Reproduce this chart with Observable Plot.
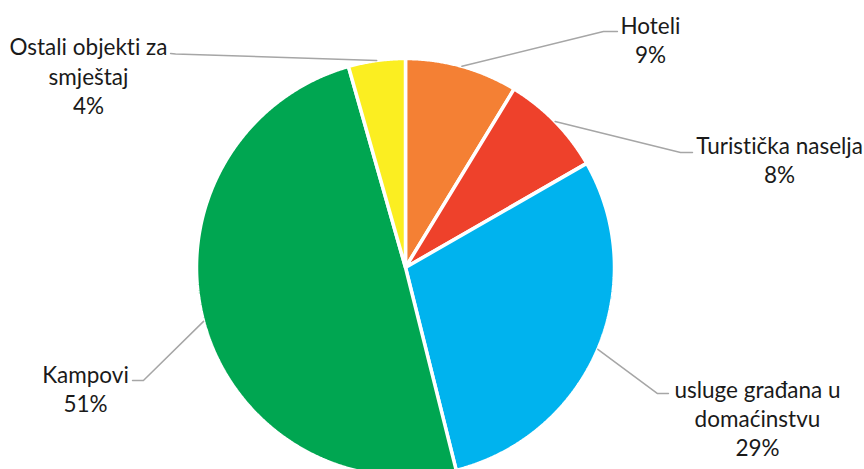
<!DOCTYPE html>
<html>
<head>
<meta charset="utf-8">
<script src="https://cdn.jsdelivr.net/npm/d3@7"></script>
<script src="https://cdn.jsdelivr.net/npm/@observablehq/plot@0.6"></script>
<style>
  html, body { margin: 0; padding: 0; background: white; overflow: hidden; }
  svg text { font-variant-ligatures: none; font-feature-settings: "liga" 0, "dlig" 0; }
</style>
</head>
<body>
<div id="chart"></div>
<script>
// ---- data ----
const categories = ["Hoteli", "Turistička naselja", "usluge građana u domaćinstvu", "Kampovi", "Ostali objekti za smještaj"];
const labelText = ["Hoteli", "Turistička naselja", "usluge građana u\ndomaćinstvu", "Kampovi", "Ostali objekti za\nsmještaj"];
const shares = [8.7, 8.0, 29.4, 49.5, 4.4];          // slice sizes as drawn
const percentLabels = ["9%", "8%", "29%", "51%", "4%"]; // percentages as printed

// ---- style / layout (in pie-radius units) ----
const colors = ["#F48034", "#EE412B", "#00B3EE", "#00A651", "#FBEE21"];
const labelCenter = [[1.172, 1.090], [1.790, 0.516], [1.684, -0.718], [-1.531, -0.578], [-1.517, 0.920]];
const leaderElbow = [[0.947, 1.129], [1.316, 0.550], [1.206, -0.603], [-1.254, -0.541], [-1.100, 1.022]];
const leaderEnd = [[1.014, 1.129], [1.373, 0.550], [1.258, -0.603], [-1.306, -0.541], [-1.124, 1.024]];

// ---- geometry derived from data ----
const arcs = d3.pie().sort(null).value(d => d)(shares);
const slicePts = [];
arcs.forEach((a, i) => {
  const name = categories[i];
  slicePts.push({name, x: 0, y: 0});
  const n = Math.max(2, Math.ceil((a.endAngle - a.startAngle) / 0.005));
  for (let k = 0; k <= n; k++) {
    const t = a.startAngle + (a.endAngle - a.startAngle) * k / n;
    slicePts.push({name, x: Math.sin(t), y: Math.cos(t)});
  }
  slicePts.push({name, x: 0, y: 0});
});

const leaderPts = [];
arcs.forEach((a, i) => {
  const m = (a.startAngle + a.endAngle) / 2;
  const name = categories[i];
  leaderPts.push({name, x: Math.sin(m), y: Math.cos(m)});
  leaderPts.push({name, x: leaderElbow[i][0], y: leaderElbow[i][1]});
  leaderPts.push({name, x: leaderEnd[i][0], y: leaderEnd[i][1]});
});

const labels = categories.map((c, i) => ({
  name: c,
  text: `${labelText[i]}\n${percentLabels[i]}`,
  x: labelCenter[i][0],
  y: labelCenter[i][1]
}));

const R = 209, cx = 405, cy = 267;

const chart = Plot.plot({
  width: 864,
  height: 469,
  style: {background: "white", fontFamily: "Lato, 'Open Sans', sans-serif"},
  x: {domain: [-1, 1], range: [cx - R, cx + R], axis: null},
  y: {domain: [-1, 1], range: [cy + R, cy - R], axis: null},
  color: {domain: categories, range: colors},
  marks: [
    Plot.line(slicePts, {x: "x", y: "y", z: "name", fill: "name", stroke: "white", strokeWidth: 3.5, strokeLinejoin: "miter"}),
    Plot.line(leaderPts, {x: "x", y: "y", z: "name", stroke: "#A6A6A6", strokeWidth: 1.5}),
    Plot.text(labels, {x: "x", y: "y", text: "text", fontSize: 22.5, lineHeight: 1.29, fill: "#1a1a1a", textAnchor: "middle", lineAnchor: "middle"})
  ]
});
document.getElementById("chart").appendChild(chart);
</script>
</body>
</html>
